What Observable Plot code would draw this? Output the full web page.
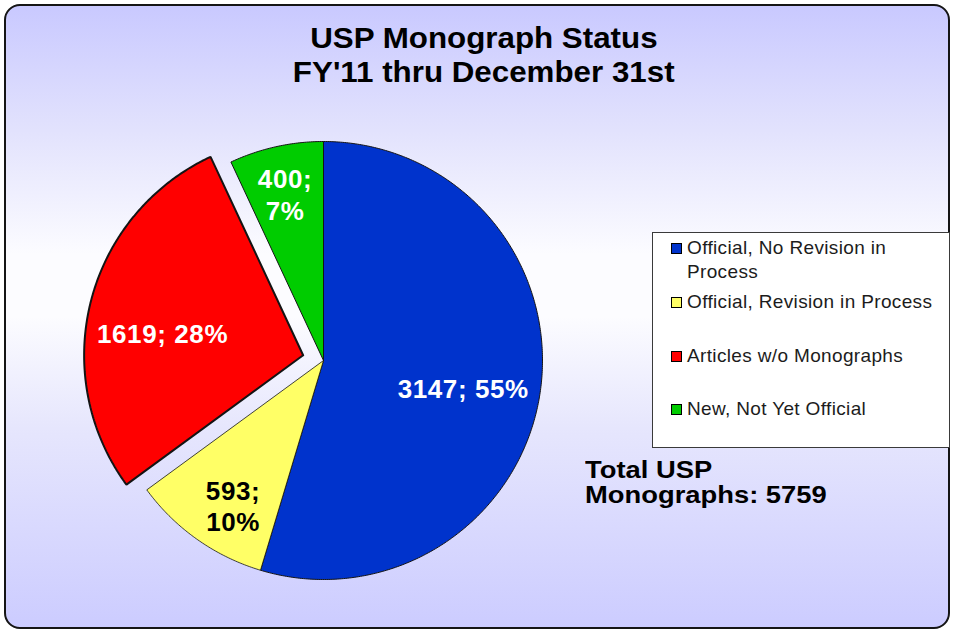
<!DOCTYPE html>
<html>
<head>
<meta charset="utf-8">
<script src="https://cdn.jsdelivr.net/npm/d3@7"></script>
<script src="https://cdn.jsdelivr.net/npm/@observablehq/plot@0.6"></script>
<style>
  html, body { margin: 0; padding: 0; background: #ffffff; }
  body { width: 953px; height: 630px; position: relative; overflow: hidden;
         font-family: "Liberation Sans", Arial, sans-serif; }
  #frame { position: absolute; left: 4px; top: 4px; width: 946px; height: 625px; box-sizing: border-box;
           border: 2.5px solid #151515; border-radius: 16px;
           background: linear-gradient(to bottom, #c9c9ff 0%, #e2e2fd 20%, #fcfcff 40%, #fcfcff 50%, #e6e6fd 68%, #ccccff 100%); }
  #chart { position: absolute; left: 0; top: 0; }
  #chart text { letter-spacing: 0.6px; }
  #title { position: absolute; left: 0; top: 21px; width: 968px; text-align: center;
           font-weight: bold; font-size: 29px; line-height: 34px; color: #000; }
  #title div { display: block; }
  #title span { display: inline-block; transform: scaleX(1.08); }
  #total { position: absolute; left: 585px; top: 457px; font-weight: bold; font-size: 24px; line-height: 25px; color: #000; }
  #total div { transform: scaleX(1.14); transform-origin: 0 50%; white-space: nowrap; }
  #legend { position: absolute; left: 652px; top: 232px; width: 298px; height: 216px; box-sizing: border-box;
            background: #ffffff; border: 1.2px solid #3a3a3a; }
  .item { position: absolute; left: 0; width: 290px; }
  .sw { position: absolute; left: 18px; width: 9px; height: 9px; border: 1px solid #000; }
  .lt { position: absolute; left: 34px; width: 256px; font-size: 19px; letter-spacing: 0.35px; line-height: 24px; color: #1c1c1c; }
</style>
</head>
<body>
<div id="frame"></div>
<div id="chart"></div>
<div id="title"></div>
<div id="total"></div>
<div id="legend"></div>
<script>
// ---- data ----
const titleLines = ["USP Monograph Status", "FY'11 thru December 31st"];
const categories = ["Official, No Revision in Process", "Official, Revision in Process", "Articles w/o Monographs", "New, Not Yet Official"];
const values = [3147, 593, 1619, 400];
const colors = ["#0033cc", "#ffff66", "#ff0000", "#00cc00"];
const labelColors = ["#ffffff", "#000000", "#ffffff", "#ffffff"];
const labelSeparators = ["; ", ";\n", "; ", ";\n"];
const totalLines = ["Total USP", "Monographs: 5759"];

// ---- layout ----
const cx = 323, cy = 360, R = 219;
const explode = [0, 0, 0.096, 0];            // radial offset (unit radius)
const labelRadius = [0.65, 0.78, 0.65, 0.78]; // label distance (unit radius)
const labelAngleNudge = [2.6, -3.3, -5.4, -0.5];
const legendRows = [248, 302, 356, 409];     // item centre y (page px)
const strokeWidths = [1, 0.8, 2, 1];

const total = d3.sum(values);
const rad = d => d * Math.PI / 180;
let acc = 0;
const slices = categories.map((c, i) => {
  const a0 = acc / total * 360; acc += values[i]; const a1 = acc / total * 360;
  return {c, i, a0, a1, mid: (a0 + a1) / 2};
});

const pts = [];
for (const s of slices) {
  const e = explode[s.i];
  const ox = e * Math.sin(rad(s.mid)), oy = e * Math.cos(rad(s.mid));
  pts.push({cat: s.c, i: s.i, x: ox, y: oy});
  const n = Math.ceil((s.a1 - s.a0) * 2);
  for (let k = 0; k <= n; k++) {
    const t = s.a0 + (s.a1 - s.a0) * k / n;
    pts.push({cat: s.c, i: s.i, x: ox + Math.sin(rad(t)), y: oy + Math.cos(rad(t))});
  }
  pts.push({cat: s.c, i: s.i, x: ox, y: oy});
}

const labels = slices.map(s => {
  const e = explode[s.i];
  const ox = e * Math.sin(rad(s.mid)), oy = e * Math.cos(rad(s.mid));
  const a = rad(s.mid + labelAngleNudge[s.i]);
  const r = labelRadius[s.i];
  const pct = Math.round(values[s.i] / total * 100) + "%";
  return {x: ox + r * Math.sin(a), y: oy + r * Math.cos(a), text: values[s.i] + labelSeparators[s.i] + pct, color: labelColors[s.i]};
});

const font = "'Liberation Sans', Arial, sans-serif";
const chart = Plot.plot({
  width: 953, height: 630, margin: 0,
  x: {domain: [-1, 1], range: [cx - R, cx + R], axis: null},
  y: {domain: [-1, 1], range: [cy + R, cy - R], axis: null},
  color: {domain: categories, range: colors},
  style: {background: "transparent", overflow: "visible", fontFamily: font},
  marks: [
    Plot.line(pts, {x: "x", y: "y", z: "cat", fill: "cat", stroke: "#141414",
      strokeWidth: d => strokeWidths[d.i], strokeLinejoin: "miter", curve: "linear"}),
    Plot.text(labels.filter(d => d.color === "#ffffff"), {x: "x", y: "y", text: "text", fill: "#ffffff",
      fontSize: 26, fontWeight: "bold", lineHeight: 1.2, fontFamily: font}),
    Plot.text(labels.filter(d => d.color === "#000000"), {x: "x", y: "y", text: "text", fill: "#000000",
      fontSize: 26, fontWeight: "bold", lineHeight: 1.2, fontFamily: font})
  ]
});
document.getElementById("chart").appendChild(chart);

// title
const t = document.getElementById("title");
titleLines.forEach(l => { const d = document.createElement("div"); const s = document.createElement("span"); s.textContent = l; d.appendChild(s); t.appendChild(d); });

// total
const tt = document.getElementById("total");
totalLines.forEach(l => { const d = document.createElement("div"); d.textContent = l; tt.appendChild(d); });

// legend
const lg = document.getElementById("legend");
categories.forEach((c, i) => {
  const it = document.createElement("div"); it.className = "item";
  const top = legendRows[i] - 232 - 12;
  it.style.top = top + "px";
  const sw = document.createElement("div"); sw.className = "sw"; sw.style.background = colors[i]; sw.style.top = "6px";
  const lt = document.createElement("div"); lt.className = "lt"; lt.textContent = c; lt.style.top = "-1px";
  it.appendChild(sw); it.appendChild(lt); lg.appendChild(it);
});
</script>
</body>
</html>
